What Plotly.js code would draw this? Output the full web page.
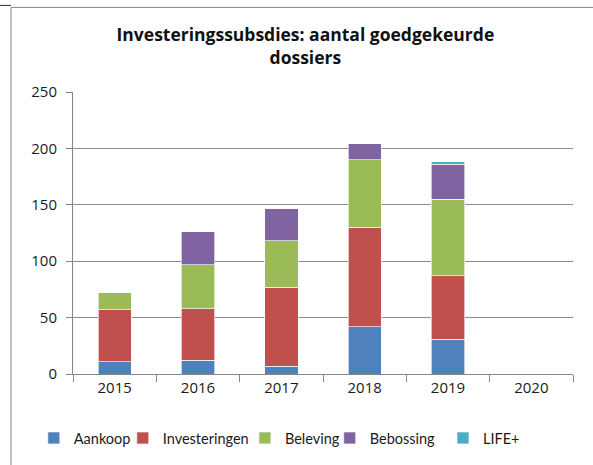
<!DOCTYPE html>
<html><head><meta charset="utf-8">
<script src="https://cdn.plot.ly/plotly-3.0.1.min.js"></script>
<style>body{margin:0;padding:0;background:#fff}#chart{width:593px;height:465px}</style>
</head><body><div id="chart"></div>
<script>
const years = ["2015","2016","2017","2018","2019","2020"];
const aankoop = [11, 12, 7, 42, 31, 0];
const investeringen = [46, 46, 70, 88, 56, 0];
const beleving = [15, 39, 41, 60, 68, 0];
const bebossing = [0, 29, 29, 14, 31, 0];
const lifePlus = [0, 0, 0, 0, 2, 0];
const seriesNames = ["Aankoop","Investeringen","Beleving","Bebossing","LIFE+"];
const seriesData = [aankoop, investeringen, beleving, bebossing, lifePlus];
const colors = ["#4F81BD","#C0504D","#9BBB59","#8064A2","#4BACC6"];
const legendIds = ["legend","legend2","legend3","legend4","legend5"];
const legendX = [0.057, 0.207, 0.413, 0.556, 0.747];

const traces = seriesNames.map((n,i)=>({
  type:'bar', name:n, x:years, y:seriesData[i], legend:legendIds[i],
  marker:{color:colors[i], line:{color:'rgba(255,255,255,0.8)', width:0.8}},
  hoverinfo:'x+y+name'
}));

const font = "'Open Sans', 'Noto Sans', sans-serif";
const layout = {
  width:593, height:465,
  barmode:'stack', bargap:0.6,
  margin:{l:73, r:20, t:92, b:91, autoexpand:false},
  paper_bgcolor:'#fff', plot_bgcolor:'#fff',
  font:{family:font, size:15, color:'#1a1a1a'},
  title:{text:'<b>Investeringssubsdies: aantal goedgekeurde<br>dossiers</b>', x:0.515, xanchor:'center', y:0.911, yanchor:'top', font:{family:font, size:17.5, color:'#111'}},
  xaxis:{type:'category', tickson:'boundaries', ticks:'outside', ticklen:7, tickcolor:'#868686',
    showline:true, linecolor:'#868686', linewidth:1, showgrid:false, tickfont:{size:15}},
  yaxis:{range:[0,250], dtick:50, ticks:'outside', ticklen:6, tickcolor:'#868686',
    showline:true, linecolor:'#868686', linewidth:1, gridcolor:'#8c8c8c', gridwidth:1,
    zeroline:false, tickfont:{size:15}, ticklabelstandoff:6},
  showlegend:true,
  shapes:[
    {type:'line', xref:'paper', yref:'paper', x0:-0.124, x1:-0.124, y0:1.3, y1:-0.33, line:{color:'#868686', width:1}},
    {type:'line', xref:'paper', yref:'paper', x0:-0.124, x1:1.04, y0:1.3, y1:1.3, line:{color:'#868686', width:1}},
    {type:'line', xref:'paper', yref:'paper', x0:-0.146, x1:-0.124, y0:1.307, y1:1.307, line:{color:'#333', width:1}}
  ]
};
legendIds.forEach((id,i)=>{
  layout[id] = {orientation:'h', xref:'container', yref:'container',
    x:legendX[i], xanchor:'left', y:0.058, yanchor:'middle',
    font:{family:"Lato, 'Open Sans', sans-serif", size:14.5}, itemwidth:30, bgcolor:'rgba(0,0,0,0)'};
});
Plotly.newPlot('chart', traces, layout, {displayModeBar:false, staticPlot:true});
</script></body></html>
